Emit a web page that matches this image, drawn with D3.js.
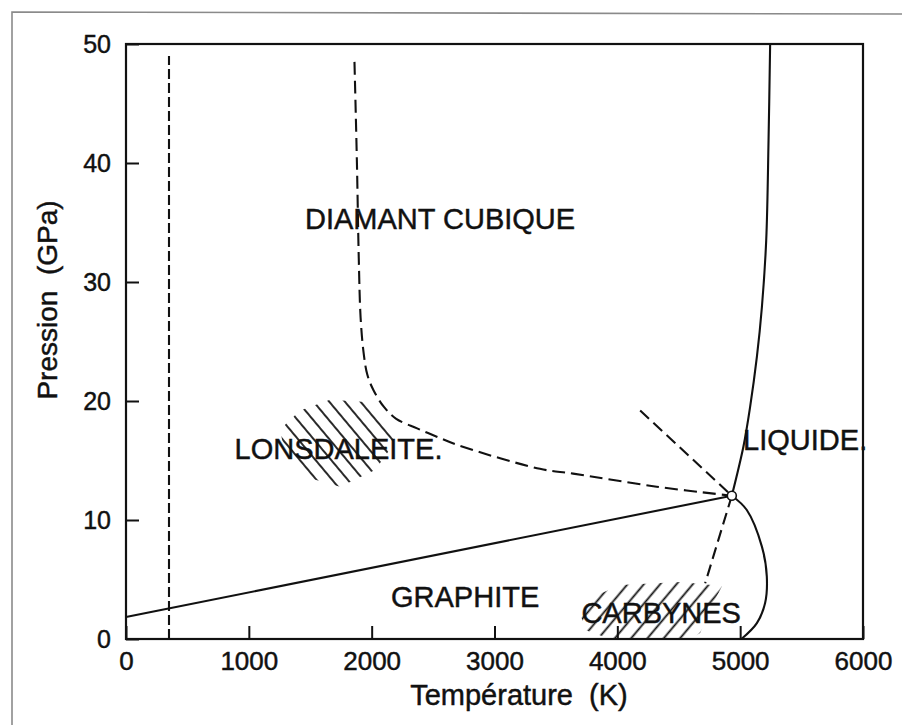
<!DOCTYPE html>
<html><head><meta charset="utf-8">
<script src="https://cdn.jsdelivr.net/npm/d3@7"></script>
<style>
body{margin:0;background:#fff}
svg{display:block}
text{font-family:"Liberation Sans",Arial,Helvetica,sans-serif;fill:#111;stroke:#111;stroke-width:0.45px;white-space:pre}
</style>
</head><body>
<svg id="c" width="902" height="725"></svg>
<script>
// ---------- data (Température K, Pression GPa) ----------
const tempTicks = [0, 1000, 2000, 3000, 4000, 5000, 6000];
const pressTicks = [0, 10, 20, 30, 40, 50];
const triplePoint = [4932, 12.04];
const graphiteDiamond = [[0, 1.85], [4932, 12.04]];
const meltingDiamond = [[4932, 12.04], [5027, 16.2], [5081, 19.5], [5136, 23.7], [5177, 27.9], [5212, 33.5], [5231, 41.9], [5244, 50]];
const meltingGraphite = [[4932, 12.04], [5054, 10.84], [5177, 7.76], [5217, 5.24], [5203, 3.03], [5136, 1.34], [5010, 0]];
const diamondLonsdaleite = [[1860, 48.5], [1880, 40], [1895, 32], [1910, 27], [1935, 24], [1965, 22.2], [2015, 20.9], [2100, 19.5], [2200, 18.5], [2370, 17.7], [2530, 17.0], [2700, 16.3], [3370, 14.3], [3640, 13.9], [4320, 12.8], [4932, 12.04]];
const metastableUpper = [[4186, 19.2], [4932, 12.04]];
const metastableLower = [[4932, 12.04], [4715, 4.68]];
const lowTempLimit = [[350, 0], [350, 49]];
const lonsdaleiteRegion = [[1254, 17.6], [1417, 19.2], [1661, 20.1], [1987, 19.9], [2174, 18.0], [2174, 16.3], [2028, 14.2], [1743, 12.8], [1498, 13.5], [1295, 15.5]];
const carbyneRegion = [[3697, 2.18], [3779, 3.45], [4023, 4.54], [4511, 4.79], [4853, 4.45], [4772, 2.86], [4674, 0.5], [4593, 0], [3941, 0], [3738, 0.76]];
const labelTexts = ["DIAMANT CUBIQUE", "LONSDALEITE.", "LIQUIDE.", "GRAPHITE", "CARBYNES"];
const labelT = [2557, 1730, 5024, 2761, 4357];
const labelP = [34.45, 15.1, 15.9, 2.69, 1.34];
const xTitle = "Température\u00a0\u00a0(K)";
const yTitle = "Pression\u00a0\u00a0(GPa)";

// ---------- layout ----------
const svg = d3.select("#c");
const X0 = 126, X1 = 863, Y0 = 639, Y1 = 44;
const x = d3.scaleLinear().domain([0, 6000]).range([X0, X1]);
const y = d3.scaleLinear().domain([0, 50]).range([Y0, Y1]);

// outer scan border
svg.append("path").attr("d", "M12,725 L12,12 L902,14")
  .attr("fill", "none").attr("stroke", "#8a8a8a").attr("stroke-width", 1.6);

// hatch patterns
const defs = svg.append("defs");
function hatch(id, angle, spacing) {
  const p = defs.append("pattern").attr("id", id)
    .attr("patternUnits", "userSpaceOnUse")
    .attr("width", spacing).attr("height", 40)
    .attr("patternTransform", `rotate(${angle})`);
  p.append("line").attr("x1", spacing / 2).attr("x2", spacing / 2)
    .attr("y1", 0).attr("y2", 40)
    .attr("stroke", "#111").attr("stroke-width", 1.8);
}
hatch("hLons", -40, 12);
hatch("hCarb", 40, 12.5);

const poly = d3.line().x(d => x(d[0])).y(d => y(d[1])).curve(d3.curveLinearClosed);
svg.append("path").attr("d", poly(lonsdaleiteRegion)).attr("fill", "url(#hLons)");
svg.append("path").attr("d", poly(carbyneRegion)).attr("fill", "url(#hCarb)");

// axes with inward ticks
const gx = svg.append("g").attr("transform", `translate(0,${Y0})`)
  .call(d3.axisBottom(x).tickValues(tempTicks).tickSizeInner(-13).tickSizeOuter(0).tickPadding(13).tickFormat(d3.format("d")));
gx.select(".domain").remove();
gx.selectAll("line").attr("stroke", "#111").attr("stroke-width", 2);
gx.selectAll("text").attr("font-size", 26).attr("fill", "#111");

const gy = svg.append("g").attr("transform", `translate(${X0},0)`)
  .call(d3.axisLeft(y).tickValues(pressTicks).tickSizeInner(-13).tickSizeOuter(0).tickPadding(15).tickFormat(d3.format("d")));
gy.select(".domain").remove();
gy.selectAll("line").attr("stroke", "#111").attr("stroke-width", 2);
gy.selectAll("text").attr("font-size", 25).attr("fill", "#111");

// frame
svg.append("rect").attr("x", X0).attr("y", Y1).attr("width", X1 - X0).attr("height", Y0 - Y1)
  .attr("fill", "none").attr("stroke", "#111").attr("stroke-width", 2.2);

// curves
const lin = d3.line().x(d => x(d[0])).y(d => y(d[1]));
const smooth = d3.line().x(d => x(d[0])).y(d => y(d[1])).curve(d3.curveCatmullRom.alpha(0.5));
function draw(gen, data, dash) {
  svg.append("path").attr("d", gen(data)).attr("fill", "none")
    .attr("stroke", "#111").attr("stroke-width", 2.1)
    .attr("stroke-dasharray", dash || null);
}
draw(lin, lowTempLimit, "10,4");
draw(lin, graphiteDiamond);
draw(smooth, meltingDiamond);
draw(smooth, meltingGraphite);
draw(smooth, diamondLonsdaleite, "13,6");
draw(lin, metastableUpper, "12,6");
draw(lin, metastableLower, "12,6");

svg.append("circle").attr("cx", x(triplePoint[0])).attr("cy", y(triplePoint[1])).attr("r", 4.5)
  .attr("fill", "#fff").attr("stroke", "#111").attr("stroke-width", 1.6);

// phase labels
labelTexts.forEach((t, i) => {
  svg.append("text").attr("x", x(labelT[i])).attr("y", y(labelP[i]))
    .attr("text-anchor", t === "LIQUIDE." ? "start" : "middle")
    .attr("font-size", 29).text(t);
});

// axis titles
svg.append("text").attr("x", 519).attr("y", 705).attr("text-anchor", "middle")
  .attr("font-size", 29).text(xTitle);
svg.append("text").attr("transform", "translate(57,300) rotate(-90)").attr("text-anchor", "middle")
  .attr("font-size", 28).text(yTitle);
</script>
</body></html>
